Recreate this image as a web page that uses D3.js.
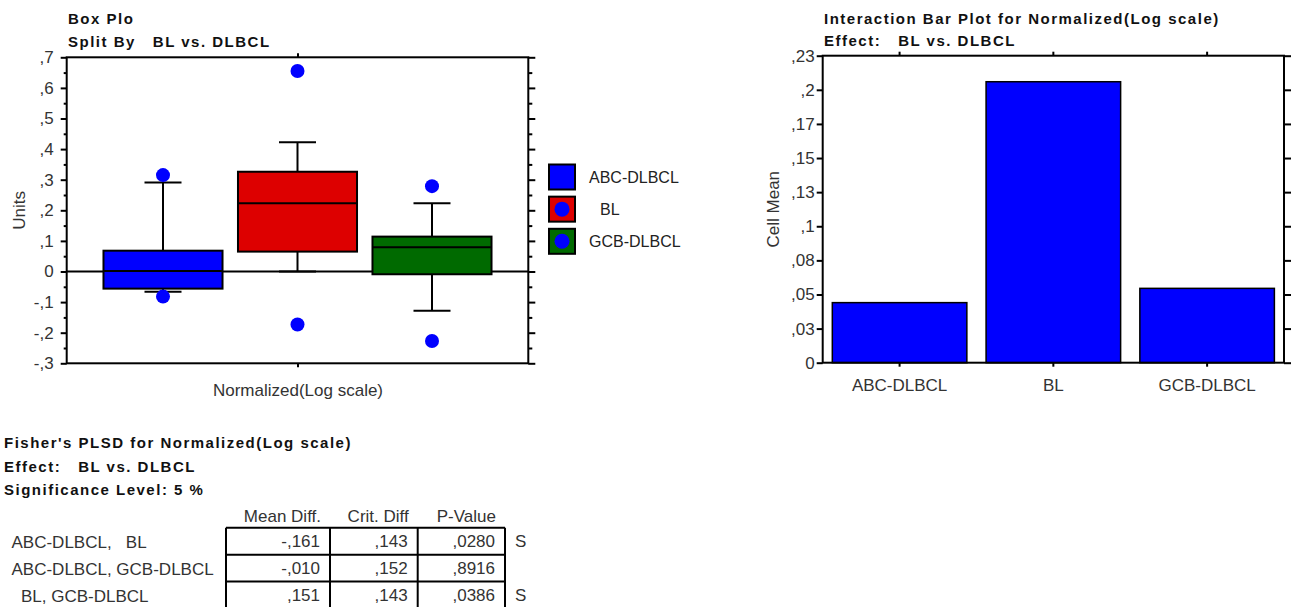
<!DOCTYPE html>
<html>
<head>
<meta charset="utf-8">
<script src="https://cdn.jsdelivr.net/npm/d3@7"></script>
<style>
  html, body { margin: 0; padding: 0; background: #fff; }
  svg { display: block; font-family: "Liberation Sans", Arial, sans-serif; }
  .title { font-weight: bold; font-size: 15px; letter-spacing: 1.5px; fill: #111; white-space: pre; }
  .lbl { font-size: 17px; fill: #333; white-space: pre; }
  .leg { font-size: 16px; fill: #222; white-space: pre; }
</style>
</head>
<body>
<svg id="chart" width="1292" height="607"></svg>
<script>
// ---------------- DATA ----------------
const categories = ["ABC-DLBCL", "BL", "GCB-DLBCL"];
const boxColors = ["#0000ff", "#dd0000", "#006a00"];

// Box plot (Units)
const boxQ1       = [-0.056, 0.065, -0.009];
const boxMedian   = [ 0.002, 0.223,  0.079];
const boxQ3       = [ 0.068, 0.326,  0.114];
const whiskerLow  = [-0.066, 0.000, -0.128];
const whiskerHigh = [ 0.291, 0.422,  0.223];
const outlierLow  = [-0.082, -0.173, -0.227];
const outlierHigh = [ 0.315, 0.655,  0.279];
const boxTickValues = [0.7, 0.6, 0.5, 0.4, 0.3, 0.2, 0.1, 0, -0.1, -0.2, -0.3];
const boxTickLabels = [",7", ",6", ",5", ",4", ",3", ",2", ",1", "0", "-,1", "-,2", "-,3"];
const boxMinorTicks = [0.65, 0.55, 0.45, 0.35, 0.25, 0.15, 0.05, -0.05, -0.15, -0.25];

// Interaction bar plot (Cell Mean)
const cellMeans = [0.045, 0.2105, 0.0557];
const barYMax = 0.23;
const barTickLabels = ["0", ",03", ",05", ",08", ",1", ",13", ",15", ",17", ",2", ",23"];

// Fisher's PLSD table
const pairLabels = ["ABC-DLBCL,   BL", "ABC-DLBCL, GCB-DLBCL", "  BL, GCB-DLBCL"];
const tableHeaders = ["Mean Diff.", "Crit. Diff", "P-Value"];
const meanDiff = ["-,161", "-,010", ",151"];
const critDiff = [",143", ",152", ",143"];
const pValue = [",0280", ",8916", ",0386"];
const significance = ["S", "", "S"];

// ---------------- DRAW ----------------
const svg = d3.select("#chart");

// ===== Box plot =====
const bp = { left: 66.7, right: 528.3, top: 57.3, bottom: 363.3 };
const yBox = d3.scaleLinear().domain([-0.3, 0.7]).range([bp.bottom, bp.top]);
const xBox = d3.scalePoint().domain(categories).range([bp.left, bp.right]).padding(0.716);
const boxW = xBox.step() * 0.885;
const capW = 37;

svg.append("text").attr("class", "title").attr("x", 68).attr("y", 24).text("Box Plo");
svg.append("text").attr("class", "title").attr("x", 68).attr("y", 47).text("Split By   BL vs. DLBCL");

const gBox = svg.append("g");

gBox.append("line")
  .attr("x1", bp.left).attr("x2", bp.right)
  .attr("y1", yBox(0)).attr("y2", yBox(0))
  .attr("stroke", "#000").attr("stroke-width", 2);

const boxG = gBox.selectAll("g.box").data(categories).join("g").attr("class", "box");
boxG.append("line")
  .attr("x1", d => xBox(d)).attr("x2", d => xBox(d))
  .attr("y1", (d, i) => yBox(boxQ3[i])).attr("y2", (d, i) => yBox(whiskerHigh[i]))
  .attr("stroke", "#000").attr("stroke-width", 2);
boxG.append("line")
  .attr("x1", d => xBox(d)).attr("x2", d => xBox(d))
  .attr("y1", (d, i) => yBox(boxQ1[i])).attr("y2", (d, i) => yBox(whiskerLow[i]))
  .attr("stroke", "#000").attr("stroke-width", 2);
boxG.append("line")
  .attr("x1", d => xBox(d) - capW / 2).attr("x2", d => xBox(d) + capW / 2)
  .attr("y1", (d, i) => yBox(whiskerHigh[i])).attr("y2", (d, i) => yBox(whiskerHigh[i]))
  .attr("stroke", "#000").attr("stroke-width", 2);
boxG.append("line")
  .attr("x1", d => xBox(d) - capW / 2).attr("x2", d => xBox(d) + capW / 2)
  .attr("y1", (d, i) => yBox(whiskerLow[i])).attr("y2", (d, i) => yBox(whiskerLow[i]))
  .attr("stroke", "#000").attr("stroke-width", 2);
boxG.append("rect")
  .attr("x", d => xBox(d) - boxW / 2).attr("width", boxW)
  .attr("y", (d, i) => yBox(boxQ3[i]))
  .attr("height", (d, i) => yBox(boxQ1[i]) - yBox(boxQ3[i]))
  .attr("fill", (d, i) => boxColors[i])
  .attr("stroke", "#000").attr("stroke-width", 2);
boxG.append("line")
  .attr("x1", d => xBox(d) - boxW / 2).attr("x2", d => xBox(d) + boxW / 2)
  .attr("y1", (d, i) => yBox(boxMedian[i])).attr("y2", (d, i) => yBox(boxMedian[i]))
  .attr("stroke", "#000").attr("stroke-width", 2);
boxG.append("circle")
  .attr("cx", d => xBox(d)).attr("cy", (d, i) => yBox(outlierHigh[i])).attr("r", 7)
  .attr("fill", "#0000ff");
boxG.append("circle")
  .attr("cx", d => xBox(d)).attr("cy", (d, i) => yBox(outlierLow[i])).attr("r", 7)
  .attr("fill", "#0000ff");

gBox.append("rect")
  .attr("x", bp.left).attr("y", bp.top)
  .attr("width", bp.right - bp.left).attr("height", bp.bottom - bp.top)
  .attr("fill", "none").attr("stroke", "#000").attr("stroke-width", 2);

function styleAxis(g) {
  g.select(".domain").remove();
  g.selectAll(".tick line").attr("stroke", "#000").attr("stroke-width", 2);
  g.selectAll(".tick text").attr("class", "lbl").attr("font-family", null).attr("font-size", null).attr("fill", null);
}
svg.append("g").attr("transform", `translate(${bp.left},0)`)
  .call(d3.axisLeft(yBox).tickValues(boxTickValues).tickFormat((d, i) => boxTickLabels[i]).tickSize(6).tickPadding(7))
  .call(styleAxis);
svg.append("g").attr("transform", `translate(${bp.left},0)`)
  .call(d3.axisLeft(yBox).tickValues(boxMinorTicks).tickFormat("").tickSize(3))
  .call(styleAxis);
svg.append("g").attr("transform", `translate(${bp.right},0)`)
  .call(d3.axisRight(yBox).tickValues(boxTickValues).tickFormat("").tickSize(7))
  .call(styleAxis);
svg.append("g").attr("transform", `translate(${bp.right},0)`)
  .call(d3.axisRight(yBox).tickValues(boxMinorTicks).tickFormat("").tickSize(4))
  .call(styleAxis);
const xVar = d3.scalePoint().domain(["Normalized(Log scale)"]).range([bp.left, bp.right]).padding(0.5);
svg.append("g").attr("transform", `translate(0,${bp.bottom})`)
  .call(d3.axisBottom(xVar).tickSize(4).tickPadding(17))
  .call(styleAxis);
svg.append("g").attr("transform", `translate(0,${bp.top})`)
  .call(d3.axisTop(xVar).tickSize(4).tickFormat(""))
  .call(styleAxis);
svg.append("text").attr("class", "lbl")
  .attr("transform", `translate(25,${(bp.top + bp.bottom) / 2}) rotate(-90)`)
  .attr("text-anchor", "middle").text("Units");

// legend
const legY = d3.scalePoint().domain(categories).range([177, 241.3]);
const leg = svg.append("g").selectAll("g").data(categories).join("g")
  .attr("transform", d => `translate(549,${legY(d)})`);
leg.append("rect").attr("x", 0).attr("y", -12.5).attr("width", 26).attr("height", 25)
  .attr("fill", (d, i) => boxColors[i]).attr("stroke", "#000").attr("stroke-width", 2);
leg.filter((d, i) => i > 0).append("circle").attr("cx", 13).attr("cy", 0).attr("r", 7.5).attr("fill", "#0000ff");
leg.append("text").attr("class", "leg").attr("x", (d, i) => i === 1 ? 51 : 40).attr("y", 6).text(d => d);

// ===== Interaction bar plot =====
const bb = { left: 822.7, right: 1284, top: 55.7, bottom: 362.7 };
const yBar = d3.scaleLinear().domain([0, barYMax]).range([bb.bottom, bb.top]);
const xBar = d3.scaleBand().domain(categories).range([bb.left, bb.right]).paddingInner(0.125).paddingOuter(0.0625);
const barTickValues = d3.range(barTickLabels.length).map(i => i * barYMax / (barTickLabels.length - 1));

svg.append("text").attr("class", "title").attr("x", 824).attr("y", 24).text("Interaction Bar Plot for Normalized(Log scale)");
svg.append("text").attr("class", "title").attr("x", 824).attr("y", 46).text("Effect:   BL vs. DLBCL");

svg.append("g").selectAll("rect").data(categories).join("rect")
  .attr("x", d => xBar(d)).attr("width", xBar.bandwidth())
  .attr("y", (d, i) => yBar(cellMeans[i]))
  .attr("height", (d, i) => yBar(0) - yBar(cellMeans[i]))
  .attr("fill", "#0000ff").attr("stroke", "#000").attr("stroke-width", 1.5);

svg.append("rect")
  .attr("x", bb.left).attr("y", bb.top)
  .attr("width", bb.right - bb.left).attr("height", bb.bottom - bb.top)
  .attr("fill", "none").attr("stroke", "#000").attr("stroke-width", 2);

svg.append("g").attr("transform", `translate(${bb.left},0)`)
  .call(d3.axisLeft(yBar).tickValues(barTickValues).tickFormat((d, i) => barTickLabels[i]).tickSize(6).tickPadding(2))
  .call(styleAxis);
svg.append("g").attr("transform", `translate(${bb.right},0)`)
  .call(d3.axisRight(yBar).tickValues(barTickValues).tickFormat("").tickSize(7))
  .call(styleAxis);
svg.append("g").attr("transform", `translate(0,${bb.bottom})`)
  .call(d3.axisBottom(xBar).tickSize(4).tickPadding(12))
  .call(styleAxis);
svg.append("g").attr("transform", `translate(0,${bb.top})`)
  .call(d3.axisTop(xBar).tickSize(4).tickFormat(""))
  .call(styleAxis);
svg.append("text").attr("class", "lbl")
  .attr("transform", `translate(779,${(bb.top + bb.bottom) / 2}) rotate(-90)`)
  .attr("text-anchor", "middle").text("Cell Mean");

// ===== Fisher's PLSD table =====
svg.append("text").attr("class", "title").attr("x", 4).attr("y", 448).text("Fisher's PLSD for Normalized(Log scale)");
svg.append("text").attr("class", "title").attr("x", 4).attr("y", 472).text("Effect:   BL vs. DLBCL");
svg.append("text").attr("class", "title").attr("x", 4).attr("y", 495).text("Significance Level: 5 %");

const colEdges = [226, 330, 417.7, 505];
const yRow = d3.scaleBand().domain(pairLabels).range([527.7, 608.5]);
const tbl = svg.append("g");
tbl.selectAll("text.hdr").data(tableHeaders).join("text").attr("class", "lbl hdr")
  .attr("x", (d, i) => colEdges[i + 1] - 9).attr("y", 521.5).attr("text-anchor", "end").text(d => d);
const cols = [meanDiff, critDiff, pValue];
cols.forEach((col, c) => {
  tbl.selectAll(`text.c${c}`).data(col).join("text").attr("class", `lbl c${c}`)
    .attr("x", colEdges[c + 1] - 10)
    .attr("y", (d, i) => yRow(pairLabels[i]) + 19.5)
    .attr("text-anchor", "end").text(d => d);
});
tbl.selectAll("text.sig").data(significance).join("text").attr("class", "lbl sig")
  .attr("x", 515).attr("y", (d, i) => yRow(pairLabels[i]) + 19.5).text(d => d);
tbl.selectAll("text.row").data(pairLabels).join("text").attr("class", "lbl row")
  .attr("x", 11.5).attr("y", d => yRow(d) + 20.5).text(d => d);
tbl.selectAll("line.h").data(pairLabels.concat(["end"])).join("line").attr("class", "h")
  .attr("x1", colEdges[0]).attr("x2", colEdges[3])
  .attr("y1", (d, i) => i < pairLabels.length ? yRow(d) : yRow.range()[1])
  .attr("y2", (d, i) => i < pairLabels.length ? yRow(d) : yRow.range()[1])
  .attr("stroke", "#000").attr("stroke-width", 2);
tbl.selectAll("line.v").data(colEdges).join("line").attr("class", "v")
  .attr("x1", d => d).attr("x2", d => d)
  .attr("y1", yRow.range()[0]).attr("y2", yRow.range()[1])
  .attr("stroke", "#000").attr("stroke-width", 2);
</script>
</body>
</html>
